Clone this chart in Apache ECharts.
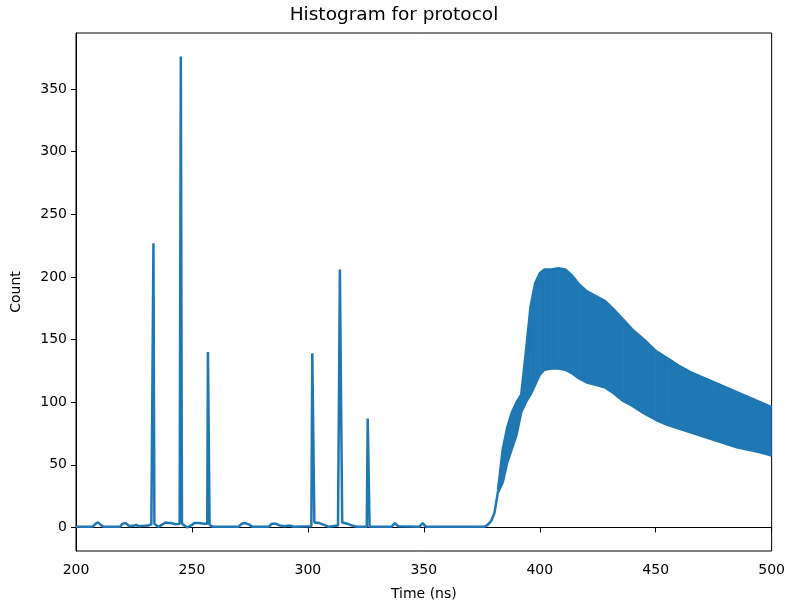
<!DOCTYPE html>
<html>
<head>
<meta charset="utf-8">
<script src="https://cdn.jsdelivr.net/npm/echarts@6/dist/echarts.min.js"></script>
<style>html,body{margin:0;padding:0;background:#fff}#c{width:788px;height:608px}</style>
</head>
<body>
<div id="c"></div>
<script>
// Sharp-peak region (time in ns, count)
var spikeTimes = [200,207,208.5,209.5,211,212,219,220,221.5,223,225,226,227,231,232.5,233.0,233.4,233.8,235.5,237,238.5,240,241,243,244.7,245.2,245.7,248,250,251,253,255,256.6,256.9,257.3,257.6,259,270,271.5,273,275,276,283,284.5,286,288,290,292,294,301.5,301.9,302.4,302.8,305,307,309,313,313.8,314.3,314.8,317,319,321,325.4,325.8,326.2,326.6,336,337.5,339,348,349.5,351,376,377.5,379,380.5,382];
var spikeCounts = [0.5,0.5,3,4,1.5,0.5,0.5,3,3.5,1,1.5,2,1,1.5,2.5,3,227,3,0.5,2,4,3.5,3.5,2.5,3,376,3,0,2,3.5,3.5,3,3,140,140,2,0.5,0.5,3,3.5,2,0.5,0.5,3,3,1.5,1,1.5,0.5,1,139,139,4,3.5,2,0.5,1.5,206,206,4,3,1.5,0.5,0.5,87,87,0.5,0.5,3.5,1,0.5,3.5,0.5,0.5,2,5,12,29];
// Dense oscillating region: envelopes
var bandTimes = [382,384,386,388,390,392,394,396,398,400,402,405,408,411,414,417,420,424,428,432,436,440,445,450,455,460,465,470,475,480,485,490,495,500];
var bandUpper = [30,62,80,92,100,106,140,176,195,203,206,206,207,206,201,194,189,185,181,174,166,158,150,141,135,129,124,120,116,112,108,104,100,96];
var bandLower = [28,36,52,63,74,92,100,106,114,122,126,127,127,126,123,119,116,114,112,107,101,97,91,86,82,79,76,73,70,67,64,62,60,57.5];
var yTicks = [0,50,100,150,200,250,300,350];

var C = '#1f77b4';
var font = 'DejaVu Sans';
var LW = 2.5;
var spikeData = spikeTimes.map(function(t,i){return [t, spikeCounts[i]];});
var bandData = bandTimes.map(function(t,i){return [t, bandLower[i], bandUpper[i]];});
var lowData = bandTimes.map(function(t,i){return [t, bandLower[i]];});
var upData = bandTimes.map(function(t,i){return [t, bandUpper[i]];});

function renderBand(params, api){
  var i = params.dataIndex;
  if (i >= bandData.length - 1) return null;
  var a = bandData[i], b = bandData[i+1];
  var pts = [api.coord([a[0], a[2]]), api.coord([b[0], b[2]]), api.coord([b[0], b[1]]), api.coord([a[0], a[1]])];
  var cs = params.coordSys;
  return {
    type:'polygon',
    shape:{points:pts},
    style:{fill:C, stroke:C, lineWidth:0.8},
    clipPath:{type:'rect', shape:{x:cs.x, y:cs.y, width:cs.width, height:cs.height}}
  };
}

var chart = echarts.init(document.getElementById('c'), null, {renderer:'canvas'});
chart.setOption({
  animation: false,
  backgroundColor: '#fff',
  title: {text:'Histogram for protocol', left:'center', top:1,
    textStyle:{fontFamily:font, fontSize:18.5, fontWeight:'normal', color:'#000'}},
  grid: {left:76, right:15, top:33, bottom:57, show:true, borderColor:'#000', borderWidth:1, backgroundColor:'transparent'},
  xAxis: {type:'value', min:200, max:500, interval:50,
    name:'Time (ns)', nameLocation:'middle', nameGap:36,
    nameTextStyle:{fontFamily:font, fontSize:14, color:'#000'},
    axisLine:{show:true, lineStyle:{color:'#000', width:1}},
    axisTick:{show:true, length:5, lineStyle:{color:'#000'}},
    axisLabel:{fontFamily:font, fontSize:14, color:'#000', margin:12},
    splitLine:{show:false}},
  yAxis: {type:'value', min:-18.8, max:394.8,
    name:'Count', nameLocation:'middle', nameGap:53, nameRotate:90,
    nameTextStyle:{fontFamily:font, fontSize:14, color:'#000'},
    axisLine:{show:true, lineStyle:{color:'#000', width:1}},
    axisTick:{show:true, length:5, lineStyle:{color:'#000'}, customValues:yTicks},
    axisLabel:{fontFamily:font, fontSize:14, color:'#000', margin:9, customValues:yTicks},
    splitLine:{show:false}},
  series: [
    {type:'line', data:spikeData, showSymbol:false, lineStyle:{color:C, width:LW}, itemStyle:{color:C}, clip:true, z:3},
    {type:'custom', data:bandData, renderItem:renderBand, encode:{x:0, y:[1,2]}, z:2},
    {type:'line', data:lowData, showSymbol:false, lineStyle:{color:C, width:LW}, itemStyle:{color:C}, clip:true, z:2},
    {type:'line', data:upData, showSymbol:false, lineStyle:{color:C, width:LW}, itemStyle:{color:C}, clip:true, z:2}
  ]
});
</script>
</body>
</html>
